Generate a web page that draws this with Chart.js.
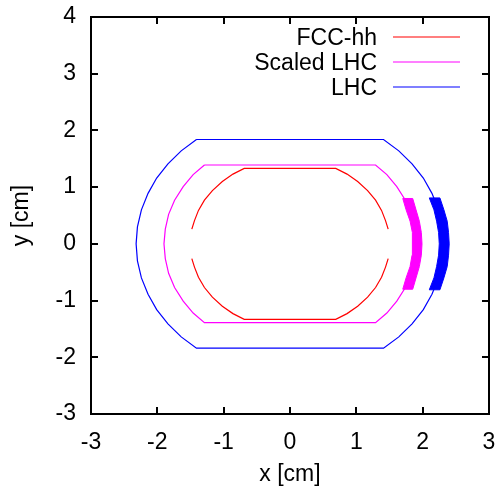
<!DOCTYPE html>
<html>
<head>
<meta charset="utf-8">
<script src="https://cdn.jsdelivr.net/npm/chart.js@4/dist/chart.umd.min.js"></script>
<style>
  html, body { margin: 0; padding: 0; background: #fff; }
  #wrap { width: 502px; height: 491px; }
</style>
</head>
<body>
<div id="wrap"><canvas id="c" width="502" height="491"></canvas></div>
<script>
// ---- data (cm) ----
const xTicks = [-3, -2, -1, 0, 1, 2, 3];
const yTicks = [-3, -2, -1, 0, 1, 2, 3, 4];
const seriesNames = ['FCC-hh', 'Scaled LHC', 'LHC'];

const fccHH = [
  {x:-1.48,y:0.26},{x:-1.44,y:0.41},{x:-1.38,y:0.59},{x:-1.29,y:0.77},{x:-1.17,y:0.94},
  {x:-1.02,y:1.10},{x:-0.86,y:1.23},{x:-0.69,y:1.33},{x:0.69,y:1.33},{x:0.86,y:1.23},
  {x:1.02,y:1.10},{x:1.17,y:0.94},{x:1.29,y:0.77},{x:1.38,y:0.59},{x:1.44,y:0.41},{x:1.48,y:0.26},
  {x:null,y:null},
  {x:1.48,y:-0.26},{x:1.44,y:-0.41},{x:1.38,y:-0.59},{x:1.29,y:-0.77},{x:1.17,y:-0.94},
  {x:1.02,y:-1.10},{x:0.86,y:-1.23},{x:0.69,y:-1.33},{x:-0.69,y:-1.33},{x:-0.86,y:-1.23},
  {x:-1.02,y:-1.10},{x:-1.17,y:-0.94},{x:-1.29,y:-0.77},{x:-1.38,y:-0.59},{x:-1.44,y:-0.41},{x:-1.48,y:-0.26}
];

const scaledLHC = [
  {x:-1.29,y:1.39},{x:1.29,y:1.39},{x:1.46,y:1.22},{x:1.61,y:1.01},{x:1.74,y:0.77},{x:1.83,y:0.52},
  {x:1.88,y:0.26},{x:1.90,y:0},{x:1.88,y:-0.26},{x:1.83,y:-0.52},{x:1.74,y:-0.77},{x:1.61,y:-1.01},
  {x:1.46,y:-1.22},{x:1.29,y:-1.39},{x:-1.29,y:-1.39},{x:-1.46,y:-1.22},{x:-1.61,y:-1.01},{x:-1.74,y:-0.77},
  {x:-1.83,y:-0.52},{x:-1.88,y:-0.26},{x:-1.90,y:0},{x:-1.88,y:0.26},{x:-1.83,y:0.52},{x:-1.74,y:0.77},
  {x:-1.61,y:1.01},{x:-1.46,y:1.22},{x:-1.29,y:1.39}
];

const scaledLHCBand = [
  {x:1.70,y:0.80},{x:1.85,y:0.80},{x:1.90,y:0.60},{x:1.95,y:0.40},{x:1.98,y:0.20},{x:1.99,y:0},
  {x:1.98,y:-0.20},{x:1.95,y:-0.40},{x:1.90,y:-0.60},{x:1.85,y:-0.80},{x:1.70,y:-0.80},
  {x:1.75,y:-0.60},{x:1.81,y:-0.40},{x:1.84,y:-0.20},{x:1.85,y:0},{x:1.84,y:0.20},{x:1.81,y:0.40},
  {x:1.75,y:0.60},{x:1.70,y:0.80}
];

const lhc = [
  {x:-1.41,y:1.84},{x:1.41,y:1.84},{x:1.64,y:1.64},{x:1.84,y:1.41},{x:2.01,y:1.16},{x:2.14,y:0.89},
  {x:2.24,y:0.60},{x:2.30,y:0.30},{x:2.32,y:0},{x:2.30,y:-0.30},{x:2.24,y:-0.60},{x:2.14,y:-0.89},
  {x:2.01,y:-1.16},{x:1.84,y:-1.41},{x:1.64,y:-1.64},{x:1.41,y:-1.84},{x:-1.41,y:-1.84},{x:-1.64,y:-1.64},
  {x:-1.84,y:-1.41},{x:-2.01,y:-1.16},{x:-2.14,y:-0.89},{x:-2.24,y:-0.60},{x:-2.30,y:-0.30},{x:-2.32,y:0},
  {x:-2.30,y:0.30},{x:-2.24,y:0.60},{x:-2.14,y:0.89},{x:-2.01,y:1.16},{x:-1.84,y:1.41},{x:-1.64,y:1.64},
  {x:-1.41,y:1.84}
];

const lhcBand = [
  {x:2.10,y:0.81},{x:2.26,y:0.81},{x:2.32,y:0.60},{x:2.37,y:0.40},{x:2.39,y:0.20},{x:2.40,y:0},
  {x:2.39,y:-0.20},{x:2.37,y:-0.40},{x:2.32,y:-0.60},{x:2.26,y:-0.81},{x:2.10,y:-0.81},
  {x:2.17,y:-0.60},{x:2.21,y:-0.40},{x:2.24,y:-0.20},{x:2.25,y:0},{x:2.24,y:0.20},{x:2.21,y:0.40},
  {x:2.17,y:0.60},{x:2.10,y:0.81}
];

const colors = ['#ff0000', '#ff00ff', '#0000ff'];
const FONT = 'Liberation Sans, Arial, Helvetica, sans-serif';
const FSIZE = 23;

function lineDs(label, data, color, inLegend) {
  return { label, data, borderColor: color, backgroundColor: color, borderWidth: 1.2,
           showLine: true, pointRadius: 0, pointHoverRadius: 0, tension: 0, spanGaps: false,
           fill: false, inLegend };
}
function bandDs(label, data, color) {
  return { label, data, borderColor: color, backgroundColor: color, borderWidth: 1,
           showLine: true, pointRadius: 0, pointHoverRadius: 0, tension: 0, fill: 'shape', inLegend: false };
}

const frame = {
  id: 'frame',
  afterDatasetsDraw(chart) {
    const { ctx, chartArea: a, scales: { x, y } } = chart;
    ctx.save();
    ctx.strokeStyle = '#000';
    ctx.lineWidth = 2;
    ctx.strokeRect(a.left, a.top, a.right - a.left, a.bottom - a.top);
    ctx.beginPath();
    x.ticks.forEach(t => {
      const px = Math.round(x.getPixelForValue(t.value));
      ctx.moveTo(px, a.bottom); ctx.lineTo(px, a.bottom - 7);
      ctx.moveTo(px, a.top); ctx.lineTo(px, a.top + 7);
    });
    y.ticks.forEach(t => {
      const py = Math.round(y.getPixelForValue(t.value));
      ctx.moveTo(a.left, py); ctx.lineTo(a.left + 7, py);
      ctx.moveTo(a.right, py); ctx.lineTo(a.right - 7, py);
    });
    ctx.stroke();
    // legend (gnuplot style: text right-aligned, sample line to the right)
    ctx.font = FSIZE + 'px ' + FONT;
    ctx.fillStyle = '#000';
    ctx.textAlign = 'right';
    ctx.textBaseline = 'middle';
    let row = 0;
    chart.data.datasets.forEach(ds => {
      if (!ds.inLegend) return;
      const cy = a.top + 20 + row * 25;
      ctx.fillText(ds.label, a.right - 112, cy + 2);
      ctx.strokeStyle = ds.borderColor;
      ctx.lineWidth = 1.2;
      ctx.beginPath();
      ctx.moveTo(a.right - 96, cy); ctx.lineTo(a.right - 29, cy);
      ctx.stroke();
      row++;
    });
    ctx.restore();
  }
};

new Chart(document.getElementById('c'), {
  type: 'scatter',
  data: {
    datasets: [
      lineDs(seriesNames[0], fccHH, colors[0], true),
      lineDs(seriesNames[1], scaledLHC, colors[1], true),
      bandDs(seriesNames[1] + ' band', scaledLHCBand, colors[1]),
      lineDs(seriesNames[2], lhc, colors[2], true),
      bandDs(seriesNames[2] + ' band', lhcBand, colors[2])
    ]
  },
  options: {
    responsive: false,
    animation: false,
    layout: { padding: { top: 17, right: 13, left: 0, bottom: 0 } },
    plugins: { legend: { display: false }, tooltip: { enabled: false } },
    scales: {
      x: {
        type: 'linear', min: xTicks[0], max: xTicks[xTicks.length - 1],
        afterBuildTicks: s => { s.ticks = xTicks.map(v => ({ value: v })); },
        ticks: { color: '#000', font: { family: FONT, size: FSIZE }, padding: 15, maxRotation: 0, autoSkip: false },
        grid: { display: false, drawTicks: false },
        border: { display: false },
        title: { display: true, text: 'x [cm]', color: '#000', font: { family: FONT, size: FSIZE }, padding: { top: 0, bottom: 3 } },
        afterFit: s => { s.height = 77; s.paddingLeft = 0; s.paddingRight = 0; }
      },
      y: {
        type: 'linear', min: yTicks[0], max: yTicks[yTicks.length - 1],
        afterBuildTicks: s => { s.ticks = yTicks.map(v => ({ value: v })); },
        ticks: { color: '#000', font: { family: FONT, size: FSIZE }, padding: 15, autoSkip: false },
        grid: { display: false, drawTicks: false },
        border: { display: false },
        title: { display: true, text: 'y [cm]', color: '#000', font: { family: FONT, size: FSIZE }, padding: { top: 8, bottom: 0 } },
        afterFit: s => { s.width = 91; s.paddingTop = 0; s.paddingBottom = 0; }
      }
    }
  },
  plugins: [frame]
});
</script>
</body>
</html>
